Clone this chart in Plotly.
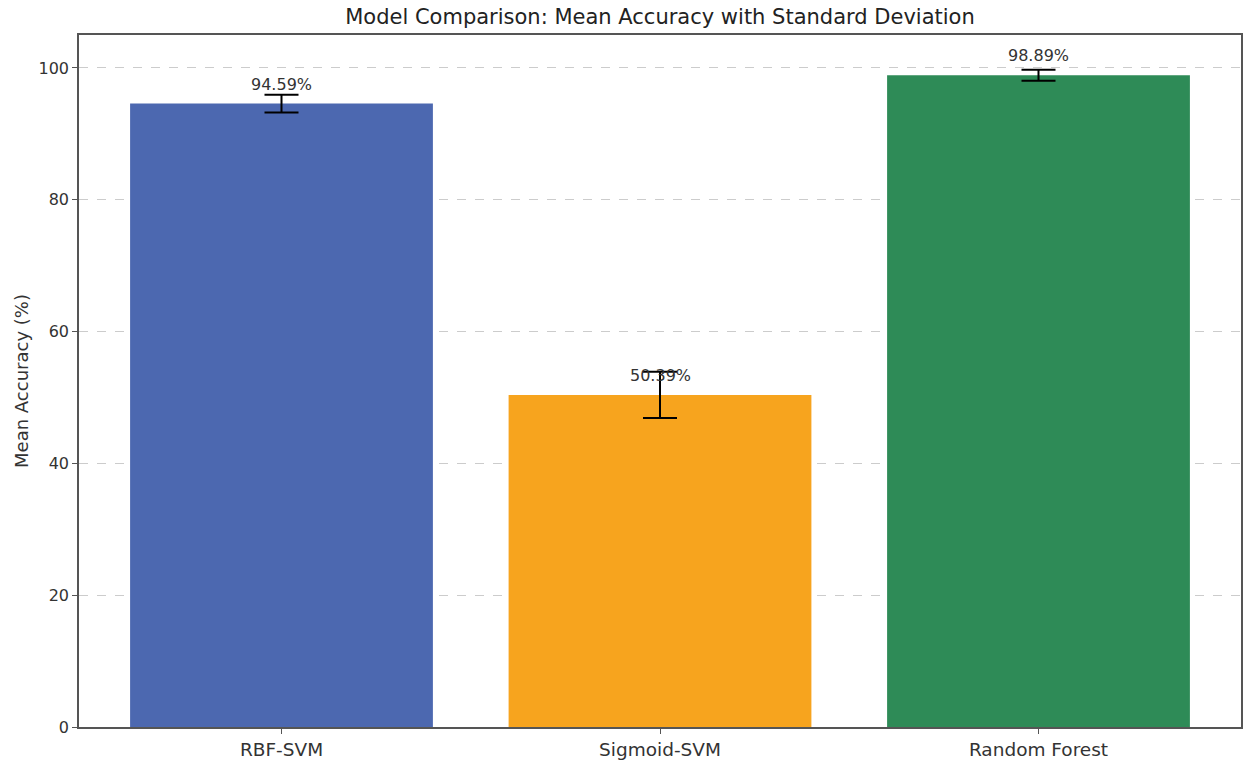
import plotly.graph_objects as go

models = ["RBF-SVM", "Sigmoid-SVM", "Random Forest"]
mean_acc = [94.59, 50.39, 98.89]
std_acc = [1.35, 3.5, 0.85]
colors = ["#4C68B0", "#F7A41E", "#2E8B57"]
yticks = [0, 20, 40, 60, 80, 100]

FONT = "DejaVu Sans"
W, H = 1254, 763

fig = go.Figure()
fig.add_trace(go.Bar(
    x=models, y=mean_acc, width=0.8,
    marker=dict(color=colors, line=dict(width=0)),
    error_y=dict(type="data", array=std_acc, visible=True, color="black", thickness=2, width=17),
    showlegend=False,
))
for m, v in zip(models, mean_acc):
    fig.add_annotation(x=m, y=v + 1.2, text=f"{v:.2f}%", showarrow=False, yanchor="bottom",
                       font=dict(family=FONT, size=16, color="#333333"))

fig.update_layout(
    width=W, height=H,
    margin=dict(l=79, r=13, t=35, b=36),
    paper_bgcolor="white", plot_bgcolor="white",
    font=dict(family=FONT, size=16, color="#333333"),
    title=dict(text="Model Comparison: Mean Accuracy with Standard Deviation",
               x=0.5, xanchor="center", xref="paper", y=1 - 17 / H, yanchor="middle",
               font=dict(size=21, color="#222222")),
    xaxis=dict(range=[-0.535, 2.535], showline=True, linecolor="#555555", linewidth=1.5, mirror=True,
               ticks="outside", ticklen=5, tickcolor="#555555", showgrid=False, automargin=False,
               tickfont=dict(size=18.5)),
    yaxis=dict(range=[0, 105], tickvals=yticks, showline=True, linecolor="#555555", linewidth=1.5,
               mirror=True, ticks="outside", ticklen=5, tickcolor="#555555", automargin=False,
               showgrid=True, gridcolor="#cccccc", griddash="dash", gridwidth=1, zeroline=False,
               title=dict(text="Mean Accuracy (%)", font=dict(size=18), standoff=5),
               tickfont=dict(size=16)),
)
fig.write_html("out.html", config={"displayModeBar": False},
               post_script="document.body.style.margin='0';")
